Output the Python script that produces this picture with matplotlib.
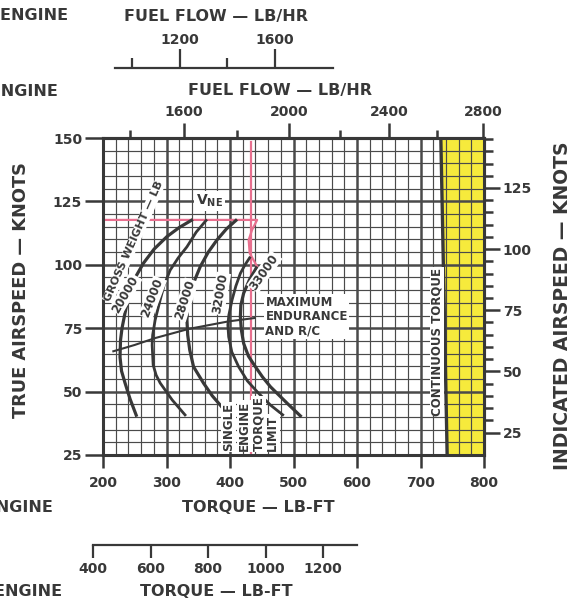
import numpy as np
import matplotlib.pyplot as plt
from matplotlib.ticker import MultipleLocator

plt.rcParams['font.family'] = ['DejaVu Sans']
plt.rcParams['font.weight'] = 'bold'
plt.rcParams['mathtext.fontset'] = 'dejavusans'

INK = '#383838'
GRID = '#4a4a4a'
PINK = '#e8708f'
YELLOW = '#f6ea3c'

# ---- scales ---------------------------------------------------------------
torque_ticks = [200, 300, 400, 500, 600, 700, 800]
tas_ticks = [25, 50, 75, 100, 125, 150]
ias_major = [25, 50, 75, 100, 125]
ias_minor = [30, 35, 40, 45, 55, 60, 65, 70, 80, 85, 90, 95,
             105, 110, 115, 120, 130, 135, 140, 145]
fuel_major = [1600, 2000, 2400, 2800]
fuel_minor = [1400, 1800, 2200, 2600]
se_fuel_major = [1200, 1600]
se_fuel_minor = [1000, 1400]
se_torque_ticks = [400, 600, 800, 1000, 1200]

# ---- gross weight curves (torque lb-ft, true airspeed kt) ----------------
gw20000_torque = [341.6, 320.0, 300.6, 280.5, 263.6, 251.3, 241.8, 234.7, 230.0,
                  227.6, 226.8, 229.2, 234.7, 242.6, 253.2]
gw20000_tas = [117.9, 114.7, 111.1, 106.2, 100.6, 95.2, 89.3, 81.0, 75.1,
               70.3, 63.6, 58.1, 53.4, 47.1, 40.1]
gw24000_torque = [363.7, 346.8, 332.2, 318.4, 305.8, 296.3, 290.0, 282.1, 278.2,
                  277.4, 279.0, 283.7, 290.0, 309.0, 330.6]
gw24000_tas = [117.9, 112.9, 107.1, 102.7, 97.9, 92.0, 86.1, 78.2, 72.3,
               68.4, 60.5, 56.5, 53.4, 46.7, 40.4]
gw28000_torque = [411.1, 394.2, 379.5, 365.8, 353.2, 344.5, 337.4, 333.4, 332.2,
                  333.4, 336.6, 342.6, 358.4, 372.2, 389.0]
gw28000_tas = [117.9, 114.1, 109.8, 105.0, 99.3, 94.0, 88.8, 83.8, 78.2,
               72.3, 66.4, 59.8, 53.3, 48.3, 43.4]
gw32000_torque = [432.1, 423.4, 416.3, 409.2, 403.2, 398.2, 396.6, 397.9, 402.9,
                  413.6, 427.4, 445.2, 463.7, 484.7]
gw32000_tas = [103.2, 99.9, 96.6, 91.6, 86.1, 80.2, 76.3, 71.6, 65.6,
               59.8, 54.2, 49.3, 44.7, 40.5]
gw33000_torque = [442.7, 430.5, 421.5, 417.1, 416.3, 417.9, 421.5, 429.0, 440.0,
                  451.1, 463.7, 490.0, 512.6]
gw33000_tas = [99.3, 94.0, 88.8, 84.1, 79.5, 74.3, 69.0, 64.0, 59.8,
               55.8, 51.9, 45.4, 40.0]

# maximum endurance and rate of climb line
max_end_torque = [216.3, 250.0, 282.0, 334.7, 397.9, 438.4]
max_end_tas = [65.9, 68.4, 71.1, 74.7, 77.7, 79.0]

# never-exceed speed and single engine torque limit
vne_torque = [200.0, 442.7, 434.8, 429.4, 431.0, 442.7]
vne_tas = [117.7, 117.7, 113.8, 109.8, 104.6, 99.3]
se_limit_torque = [433.0, 433.0]
se_limit_tas = [25.0, 148.4]

# continuous torque limit
cont_torque = [742.0, 732.0]
cont_tas = [25.0, 150.0]

# twin engine fuel flow vs torque: torque = A + B*u + C*u^2, u = fuel - 2100
FA, FB, FC = 533.22, 0.39779, -2.59e-5


def f2t(f):
    u = np.asarray(f, dtype=float) - 2100.0
    return FA + FB * u + FC * u * u


def t2f(t):
    t = np.asarray(t, dtype=float)
    disc = np.maximum(FB * FB - 4 * FC * (FA - t), 0.0)
    return 2100.0 + (-FB + np.sqrt(disc)) / (2 * FC)


def tas2ias(v):
    return (np.asarray(v) - 9.75) / 0.9644


def ias2tas(v):
    return 9.75 + np.asarray(v) * 0.9644


W, H = 580, 603
fig = plt.figure(figsize=(W / 100, H / 100), dpi=100)


def fx(px):
    return px / W


def fy(py):
    return 1 - py / H


ax = fig.add_axes([fx(103), fy(455), fx(484) - fx(103), fy(138) - fy(455)])
ax.set_xlim(200, 800)
ax.set_ylim(25, 150)
ax.set_axisbelow(True)

# grid
ax.xaxis.set_minor_locator(MultipleLocator(20))
ax.yaxis.set_minor_locator(MultipleLocator(5))
ax.grid(which='major', color=GRID, lw=1.8)
ax.grid(which='minor', color=GRID, lw=0.85)
for s in ax.spines.values():
    s.set_linewidth(2.2)
    s.set_color(INK)

# continuous torque zone
ax.fill_betweenx(cont_tas, cont_torque, [800, 800], color=YELLOW, zorder=0.2, lw=0)
ax.plot(cont_torque, cont_tas, color=INK, lw=2.4, zorder=3, solid_capstyle='butt')

# ticks on the main frame
ax.set_xticks(torque_ticks)
ax.set_yticks(tas_ticks)
ax.tick_params(which='minor', length=0)
ax.tick_params(axis='x', which='major', direction='out', length=9.5, width=1.8,
               color=INK, labelsize=10, labelcolor=INK, pad=5.5, top=False)
ax.tick_params(axis='y', which='major', direction='out', length=13, width=1.8,
               color=INK, labelsize=10, labelcolor=INK, pad=2, right=False)
for lab in ax.get_xticklabels() + ax.get_yticklabels():
    lab.set_fontweight('bold')

# twin engine fuel flow on top
secx = ax.secondary_xaxis('top', functions=(t2f, f2t))
secx.set_xticks(fuel_major)
secx.set_xticks(fuel_minor, minor=True)
secx.tick_params(which='major', direction='out', length=11, width=1.8, color=INK,
                 labelsize=10, labelcolor=INK, pad=2.5)
secx.tick_params(which='minor', direction='out', length=6, width=1.8, color=INK)
secx.spines['top'].set_linewidth(2.2)
for lab in secx.get_xticklabels():
    lab.set_fontweight('bold')

# indicated airspeed on the right
secy = ax.secondary_yaxis('right', functions=(tas2ias, ias2tas))
secy.set_yticks(ias_major)
secy.set_yticks(ias_minor, minor=True)
secy.tick_params(which='major', direction='out', length=11.5, width=1.8, color=INK,
                 labelsize=10, labelcolor=INK, pad=2)
secy.tick_params(which='minor', direction='out', length=6.5, width=1.8, color=INK)
secy.spines['right'].set_linewidth(2.2)
for lab in secy.get_yticklabels():
    lab.set_fontweight('bold')

# limit lines
ax.plot(se_limit_torque, se_limit_tas, color=PINK, lw=1.6, zorder=2)
ax.plot(vne_torque, vne_tas, color=PINK, lw=1.6, zorder=2)

# gross weight curves
curves = [(gw20000_torque, gw20000_tas, 2.3), (gw24000_torque, gw24000_tas, 2.0),
          (gw28000_torque, gw28000_tas, 2.3), (gw32000_torque, gw32000_tas, 2.0),
          (gw33000_torque, gw33000_tas, 2.3)]
for tq, v, lw in curves:
    ax.plot(tq, v, color=INK, lw=lw, zorder=4, solid_capstyle='butt',
            solid_joinstyle='round')
ax.plot(max_end_torque, max_end_tas, color=INK, lw=1.5, zorder=4)

box = dict(facecolor='white', edgecolor='none', pad=0.6)
lab_kw = dict(fontsize=8.5, fontweight='bold', color=INK, ha='center', va='center',
              rotation_mode='anchor', bbox=box, zorder=5)
ax.text(248.9, 109.4, 'GROSS WEIGHT \u2014 LB', rotation=66, **{**lab_kw, 'fontsize': 8})
ax.text(235.5, 88.4, '20000', rotation=60, **lab_kw)
ax.text(278.2, 87.0, '24000', rotation=69, **lab_kw)
ax.text(329.5, 86.2, '28000', rotation=72, **lab_kw)
ax.text(384.7, 88.6, '32000', rotation=80, **lab_kw)
ax.text(454.2, 97.2, '33000', rotation=55, **lab_kw)

ax.text(367.4, 125.2, r'$\mathbf{V_{NE}}$', fontsize=10, color=INK, ha='center',
        va='center', bbox=dict(facecolor='white', edgecolor='none', pad=1.5), zorder=5)
ax.text(455.8, 79.5, 'MAXIMUM\nENDURANCE\nAND R/C', fontsize=8.5, fontweight='bold',
        color=INK, ha='left', va='center', linespacing=1.15,
        bbox=dict(facecolor='white', edgecolor='none', pad=1.0), zorder=5)
ax.text(725.8, 69.7, 'CONTINUOUS TORQUE', rotation=90, fontsize=8.5, fontweight='bold',
        color=INK, ha='center', va='center', bbox=box, zorder=5)
for xt, word in zip([397.4, 422.6, 444.7, 466.8], ['SINGLE', 'ENGINE', 'TORQUE', 'LIMIT']):
    ax.text(xt, 26.4, word, rotation=90, fontsize=8.5, fontweight='bold', color=INK,
            ha='center', va='bottom', bbox=box, zorder=5)

# single engine fuel flow scale (top)
ax_sf = fig.add_axes([fx(115), fy(68), fx(333) - fx(115), 0.0005])
ax_sf.set_xlim(928.2, 1844.0)
ax_sf.patch.set_visible(False)
for k, s in ax_sf.spines.items():
    s.set_visible(k == 'top')
ax_sf.spines['top'].set_linewidth(1.6)
ax_sf.spines['top'].set_color(INK)
ax_sf.set_yticks([])
ax_sf.xaxis.tick_top()
ax_sf.set_xticks(se_fuel_major)
ax_sf.set_xticks(se_fuel_minor, minor=True)
ax_sf.tick_params(which='major', direction='out', length=14, width=1.6, color=INK,
                  labelsize=10, labelcolor=INK, pad=1)
ax_sf.tick_params(which='minor', direction='out', length=7, width=1.6, color=INK)
for lab in ax_sf.get_xticklabels():
    lab.set_fontweight('bold')

# single engine torque scale (bottom)
ax_st = fig.add_axes([fx(93), fy(545), fx(357) - fx(93), 0.0005])
ax_st.set_xlim(400, 1318)
ax_st.patch.set_visible(False)
for k, s in ax_st.spines.items():
    s.set_visible(k == 'bottom')
ax_st.spines['bottom'].set_linewidth(1.6)
ax_st.spines['bottom'].set_color(INK)
ax_st.set_yticks([])
ax_st.set_xticks(se_torque_ticks)
ax_st.tick_params(direction='out', length=9.5, width=1.6, color=INK,
                  labelsize=10, labelcolor=INK, pad=3)
for lab in ax_st.get_xticklabels():
    lab.set_fontweight('bold')

# titles
tkw = dict(fontsize=11.5, fontweight='bold', color=INK, va='center')
fig.text(fx(215.5), fy(16), 'FUEL FLOW \u2014 LB/HR', ha='center', **tkw)
fig.text(fx(68), fy(16), 'SINGLE ENGINE', ha='right', **tkw)
fig.text(fx(280.5), fy(91), 'FUEL FLOW \u2014 LB/HR', ha='center', **tkw)
fig.text(fx(58), fy(91), 'TWIN ENGINE', ha='right', **tkw)
fig.text(fx(258), fy(508), 'TORQUE \u2014 LB-FT', ha='center', **tkw)
fig.text(fx(53), fy(508), 'TWIN ENGINE', ha='right', **tkw)
fig.text(fx(216), fy(592), 'TORQUE \u2014 LB-FT', ha='center', **tkw)
fig.text(fx(62), fy(592), 'SINGLE ENGINE', ha='right', **tkw)
fig.text(fx(21), fy(290), 'TRUE AIRSPEED \u2014 KNOTS', rotation=90, ha='center',
         **{**tkw, 'fontsize': 12.8})
fig.text(fx(563), fy(306), 'INDICATED AIRSPEED \u2014 KNOTS', rotation=90, ha='center',
         **{**tkw, 'fontsize': 13.5})

fig.savefig('out.png', dpi=100, facecolor='white')
